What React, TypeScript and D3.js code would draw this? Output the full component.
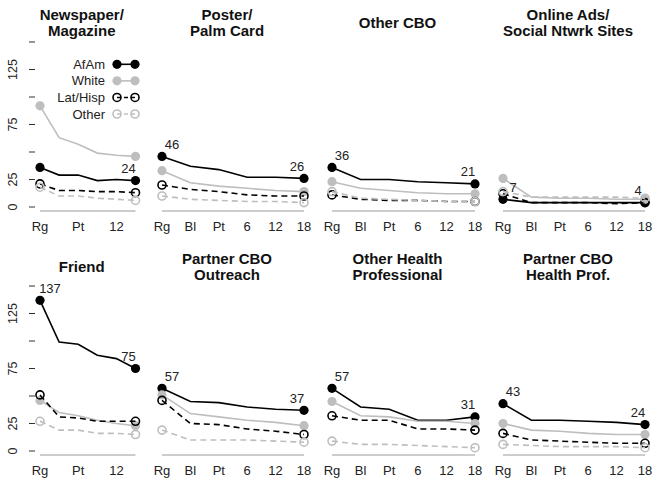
import * as d3 from 'd3';

const periods = ['Rg', 'Bl', 'Pt', '6', '12', '18'];
const groups = ['AfAm', 'White', 'Lat/Hisp', 'Other'];
const yTicks = [0, 25, 50, 75, 100, 125, 150];
const yTickLabels = [0, 25, 75, 125];
const firstColLabels = ['Rg', 'Pt', '12'];

// values per panel: AfAm, White, Lat/Hisp, Other
const newspaper = [
  [36, 29, 29, 24, 25, 24],
  [92, 63, 57, 49, 47, 46],
  [21, 15, 15, 14, 14, 13],
  [18, 10, 10, 8, 7, 6],
];
const poster = [
  [46, 37, 34, 27, 27, 26],
  [33, 22, 19, 17, 15, 14],
  [20, 16, 14, 11, 10, 10],
  [10, 7, 6, 5, 5, 4],
];
const otherCbo = [
  [36, 25, 25, 23, 22, 21],
  [23, 17, 15, 13, 12, 12],
  [11, 7, 6, 6, 5, 5],
  [14, 8, 7, 6, 5, 5],
];
const online = [
  [7, 4, 4, 4, 4, 4],
  [26, 9, 8, 8, 7, 7],
  [12, 4, 4, 4, 3, 4],
  [14, 9, 9, 9, 9, 8],
];
const friend = [
  [137, 99, 97, 87, 84, 75],
  [46, 35, 32, 28, 25, 23],
  [51, 31, 30, 27, 27, 27],
  [27, 19, 19, 16, 16, 15],
];
const partnerOutreach = [
  [57, 45, 44, 40, 38, 37],
  [51, 34, 31, 28, 26, 23],
  [46, 25, 24, 20, 18, 15],
  [19, 10, 10, 10, 9, 8],
];
const otherHealth = [
  [57, 40, 38, 28, 28, 31],
  [45, 32, 31, 27, 27, 25],
  [32, 28, 28, 20, 20, 19],
  [9, 6, 6, 5, 4, 3],
];
const partnerHealth = [
  [43, 28, 28, 27, 26, 24],
  [25, 19, 18, 16, 15, 15],
  [16, 10, 9, 8, 7, 7],
  [6, 5, 4, 4, 4, 3],
];

const panels = [
  { title: ['Newspaper/', 'Magazine'], values: newspaper, firstLabel: false },
  { title: ['Poster/', 'Palm Card'], values: poster, firstLabel: true },
  { title: ['Other CBO'], values: otherCbo, firstLabel: true },
  { title: ['Online Ads/', 'Social Ntwrk Sites'], values: online, firstLabel: true },
  { title: ['Friend'], values: friend, firstLabel: true },
  { title: ['Partner CBO', 'Outreach'], values: partnerOutreach, firstLabel: true },
  { title: ['Other Health', 'Professional'], values: otherHealth, firstLabel: true },
  { title: ['Partner CBO', 'Health Prof.'], values: partnerHealth, firstLabel: true },
];

const W = 657;
const H = 486;
const colRanges = [[40, 135.5], [162, 304], [332, 475], [503, 645]];
const rowOffset = [0, 244];
const FONT = "'Liberation Sans', Arial, Helvetica, sans-serif";
const GRAY = '#bebebe';

const styles = [
  { color: '#000', dash: null, filled: true },
  { color: GRAY, dash: null, filled: true },
  { color: '#000', dash: '6,4', filled: false },
  { color: GRAY, dash: '6,4', filled: false },
];

const Marker = ({ cx, cy, s }) =>
  s.filled ? (
    <circle cx={cx} cy={cy} r={4.6} fill={s.color} />
  ) : (
    <circle cx={cx} cy={cy} r={4} fill="none" stroke={s.color} strokeWidth={1.6} />
  );

const Panel = ({ p, i }) => {
  const col = i % 4;
  const row = Math.floor(i / 4);
  const off = rowOffset[row];
  const x = d3.scalePoint().domain(periods).range(colRanges[col]);
  const y = d3.scaleLinear().domain([0, 150]).range([207 + off, 42 + off]);
  const line = d3
    .line()
    .x((d, j) => x(periods[j]))
    .y(d => y(d));
  const [x0, x1] = colRanges[col];
  const titleX = (x0 + x1) / 2 - 6;
  const titleY = p.title.length === 2 ? [14 + off, 30.5 + off] : [22.5 + off];
  const afam = p.values[0];
  const xLabels = col === 0 ? firstColLabels : periods;

  return (
    <g>
      {p.title.map((t, k) => (
        <text
          key={k}
          x={titleX}
          y={titleY[k]}
          textAnchor="middle"
          dominantBaseline="central"
          fontSize={15}
          fontWeight="bold"
          fill="#111"
        >
          {t}
        </text>
      ))}
      <line x1={x0} x2={x1} y1={y(0) + 4} y2={y(0) + 4} stroke="#9a9a9a" strokeWidth={1} />
      {xLabels.map(l => (
        <text key={l} x={x(l)} y={y(0) + 19} textAnchor="middle" dominantBaseline="central" fontSize={13} fill="#222">
          {l}
        </text>
      ))}
      {col === 0 && (
        <g>
          {yTicks.map(t => (
            <line key={t} x1={29} x2={35} y1={y(t)} y2={y(t)} stroke="#333" strokeWidth={1} />
          ))}
          {yTickLabels.map(t => (
            <text
              key={t}
              transform={`translate(13,${y(t)}) rotate(-90)`}
              textAnchor="middle"
              dominantBaseline="central"
              fontSize={12.5}
              fill="#222"
            >
              {t}
            </text>
          ))}
        </g>
      )}
      {p.values.map((vals, g) => {
        const s = styles[g];
        return (
          <g key={g}>
            <path
              d={line(vals)}
              fill="none"
              stroke={s.color}
              strokeWidth={1.6}
              strokeDasharray={s.dash || undefined}
            />
            <Marker cx={x(periods[0])} cy={y(vals[0])} s={s} />
            <Marker cx={x(periods[periods.length - 1])} cy={y(vals[vals.length - 1])} s={s} />
          </g>
        );
      })}
      {p.firstLabel && (
        <text x={x(periods[0]) + 10} y={y(afam[0]) - 12} textAnchor="middle" dominantBaseline="central" fontSize={13} fill="#222">
          {afam[0]}
        </text>
      )}
      <text
        x={x(periods[periods.length - 1]) - 7}
        y={y(afam[afam.length - 1]) - 12}
        textAnchor="middle"
        dominantBaseline="central"
        fontSize={13}
        fill="#222"
      >
        {afam[afam.length - 1]}
      </text>
    </g>
  );
};

const Legend = () => {
  const rowY = d3.scalePoint().domain(groups).range([64.3, 114]);
  return (
    <g>
      {groups.map((g, k) => {
        const s = styles[k];
        const yy = rowY(g);
        return (
          <g key={g}>
            <text x={105} y={yy} textAnchor="end" dominantBaseline="central" fontSize={13} fill="#222">
              {g}
            </text>
            <line x1={117} x2={135} y1={yy} y2={yy} stroke={s.color} strokeWidth={1.6} strokeDasharray={s.dash ? '4,3' : undefined} />
            <Marker cx={117} cy={yy} s={s} />
            <Marker cx={135} cy={yy} s={s} />
          </g>
        );
      })}
    </g>
  );
};

export default function App() {
  return (
    <svg
      width={W}
      height={H}
      style={{ position: 'absolute', left: 0, top: 0, background: '#fff', fontFamily: FONT }}
    >
      {panels.map((p, i) => (
        <Panel key={i} p={p} i={i} />
      ))}
      <Legend />
    </svg>
  );
}
